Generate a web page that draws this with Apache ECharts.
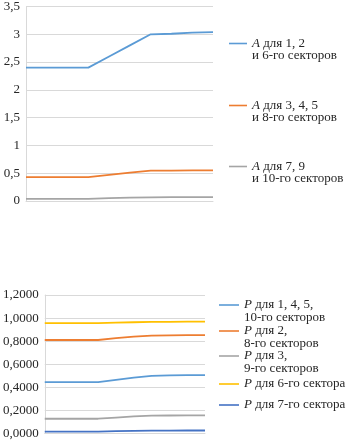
<!DOCTYPE html>
<html>
<head>
<meta charset="utf-8">
<script src="https://cdn.jsdelivr.net/npm/echarts@6/dist/echarts.min.js"></script>
<style>
  html, body { margin: 0; padding: 0; background: #fff; }
  #chart { width: 348px; height: 440px; }
</style>
</head>
<body>
<div id="chart"></div>
<script>
// Steps along the horizontal axis (10 points, no labels shown)
const steps = ['1', '2', '3', '4', '5', '6', '7', '8', '9', '10'];

// Upper panel: A values
const aSectors1_2_6 = [2.40, 2.40, 2.40, 2.40, 2.60, 2.80, 3.00, 3.01, 3.03, 3.04];
const aSectors3_4_5_8 = [0.43, 0.43, 0.43, 0.43, 0.47, 0.51, 0.545, 0.547, 0.55, 0.55];
const aSectors7_9_10 = [0.04, 0.04, 0.04, 0.04, 0.05, 0.06, 0.065, 0.068, 0.07, 0.07];

// Lower panel: P values
const pSectors1_4_5_10 = [0.445, 0.445, 0.445, 0.445, 0.465, 0.485, 0.500, 0.503, 0.505, 0.505];
const pSectors2_8 = [0.810, 0.810, 0.810, 0.810, 0.826, 0.840, 0.848, 0.850, 0.852, 0.852];
const pSectors3_9 = [0.128, 0.128, 0.128, 0.128, 0.138, 0.148, 0.155, 0.156, 0.157, 0.157];
const pSector6 = [0.956, 0.956, 0.956, 0.956, 0.960, 0.964, 0.967, 0.968, 0.969, 0.969];
const pSector7 = [0.016, 0.016, 0.016, 0.016, 0.020, 0.023, 0.025, 0.025, 0.026, 0.026];

// Legend texts: [italic symbol, rest of first line, second line]
const topLegend = [
  ['A', ' для 1, 2', 'и 6-го секторов'],
  ['A', ' для 3, 4, 5', 'и 8-го секторов'],
  ['A', ' для 7, 9', 'и 10-го секторов']
];
const bottomLegend = [
  ['P', ' для 1, 4, 5,', '10-го секторов'],
  ['P', ' для 2,', '8-го секторов'],
  ['P', ' для 3,', '9-го секторов'],
  ['P', ' для 6-го сектора', ''],
  ['P', ' для 7-го сектора', '']
];

const FONT = 'Liberation Serif';
const TEXT = '#262626';
const GRID = '#d9d9d9';

const topColors = ['#5B9BD5', '#ED7D31', '#A5A5A5'];
const bottomColors = ['#5B9BD5', '#ED7D31', '#A5A5A5', '#FFC000', '#4472C4'];
const topValues = [aSectors1_2_6, aSectors3_4_5_8, aSectors7_9_10];
const bottomValues = [pSectors1_4_5_10, pSectors2_8, pSectors3_9, pSector6, pSector7];

// first-line centre positions of each legend entry
const topLegendY = [43, 105, 166];
const bottomLegendY = [305, 331, 356, 384, 405];

function seriesName(entry) { return entry[0] + entry[1] + (entry[2] ? ' ' + entry[2] : ''); }

function legendFor(entry, left, firstLineY, lh, itemWidth) {
  const twoLines = !!entry[2];
  const rich = '{i|' + entry[0] + '}{t|' + entry[1] + '}';
  // an empty leading line keeps the icon level with the first text line
  const text = twoLines ? '{t| }\n' + rich + '\n{t|' + entry[2] + '}' : rich;
  const top = twoLines ? firstLineY - 1.5 * lh : firstLineY - lh / 2;
  return {
    data: [seriesName(entry)],
    left: left,
    top: top,
    padding: 0,
    orient: 'vertical',
    icon: 'rect',
    itemWidth: itemWidth,
    itemHeight: 1.6,
    selectedMode: false,
    formatter: function () { return text; },
    textStyle: {
      fontFamily: FONT,
      fontSize: 13,
      color: TEXT,
      lineHeight: lh,
      rich: {
        i: { fontFamily: FONT, fontSize: 13, fontStyle: 'italic', color: TEXT, lineHeight: lh },
        t: { fontFamily: FONT, fontSize: 13, color: TEXT, lineHeight: lh }
      }
    }
  };
}

const legends = [];
topLegend.forEach((e, i) => legends.push(legendFor(e, 229, topLegendY[i], 12, 18)));
bottomLegend.forEach((e, i) => legends.push(legendFor(e, 219, bottomLegendY[i], 13, 20)));

const series = [];
topLegend.forEach((e, i) => series.push({
  name: seriesName(e), type: 'line', xAxisIndex: 0, yAxisIndex: 0,
  data: topValues[i], showSymbol: false, symbol: 'none',
  lineStyle: { width: 1.8, color: topColors[i] }, itemStyle: { color: topColors[i] }
}));
bottomLegend.forEach((e, i) => series.push({
  name: seriesName(e), type: 'line', xAxisIndex: 1, yAxisIndex: 1,
  data: bottomValues[i], showSymbol: false, symbol: 'none',
  lineStyle: { width: 1.8, color: bottomColors[i] }, itemStyle: { color: bottomColors[i] }
}));

function xAxisFor(gridIndex) {
  return {
    type: 'category', gridIndex: gridIndex, data: steps, boundaryGap: false,
    axisLine: { show: true, lineStyle: { color: GRID, width: 1 } },
    axisTick: { show: false }, axisLabel: { show: false }, splitLine: { show: false }
  };
}
function yAxisFor(gridIndex, max, interval, fmt) {
  return {
    type: 'value', gridIndex: gridIndex, min: 0, max: max, interval: interval,
    axisLine: { show: true, lineStyle: { color: GRID, width: 1 } },
    axisTick: { show: false },
    splitLine: { show: true, lineStyle: { color: GRID, width: 1 } },
    axisLabel: { fontFamily: FONT, fontSize: 13, color: TEXT, margin: 6, formatter: fmt }
  };
}

const chart = echarts.init(document.getElementById('chart'), null, { renderer: 'canvas' });
chart.setOption({
  animation: false,
  backgroundColor: '#ffffff',
  grid: [
    { left: 26, top: 5, width: 187, height: 196 },
    { left: 43, top: 295, width: 162, height: 139.5 }
  ],
  xAxis: [xAxisFor(0), xAxisFor(1)],
  yAxis: [
    yAxisFor(0, 3.5, 0.5, v => String(Math.round(v * 10) / 10).replace('.', ',')),
    yAxisFor(1, 1.2, 0.2, v => v.toFixed(4).replace('.', ','))
  ],
  legend: legends,
  series: series
});
</script>
</body>
</html>
